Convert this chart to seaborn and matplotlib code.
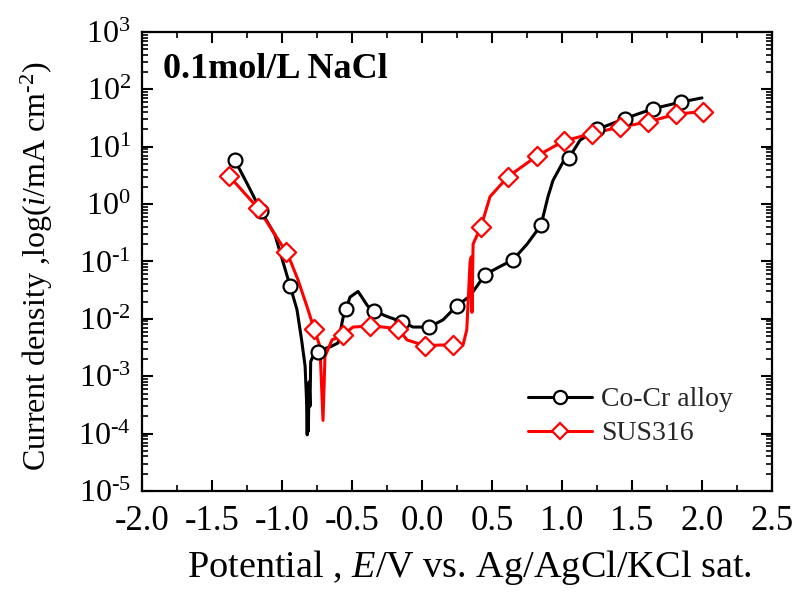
import numpy as np
import pandas as pd
import seaborn as sns
import matplotlib
matplotlib.use("Agg")
import matplotlib.pyplot as plt
from matplotlib.lines import Line2D
from matplotlib.ticker import (MultipleLocator, FormatStrFormatter, LogLocator,
                               NullFormatter, FuncFormatter)

# Polarization curve, Co-Cr alloy (potential in V, current density in mA/cm2)
cocr_v = [-1.34, -1.25, -1.15, -1.05, -0.943, -0.893, -0.86, -0.835, -0.825, -0.82,
          -0.815, -0.812, -0.806, -0.80, -0.795, -0.78, -0.743, -0.70, -0.65, -0.60,
          -0.564, -0.543, -0.514, -0.457, -0.43, -0.39, -0.343, -0.25, -0.143, -0.064,
          0.05, 0.15, 0.25, 0.343, 0.45, 0.55, 0.65, 0.75, 0.85, 0.90, 0.936,
          1.007, 1.05, 1.129, 1.25, 1.45, 1.65, 1.85, 2.0]
cocr_i = [6.0, 2.3, 0.76, 0.29, 0.038, 0.0145, 0.0043, 0.0015, 0.0004, 0.000095,
          0.0006, 0.00011, 0.0008, 0.0003, 0.0018, 0.0022, 0.0026, 0.0030, 0.0033, 0.0038,
          0.0105, 0.0149, 0.024, 0.030, 0.024, 0.017, 0.0138, 0.011, 0.0089, 0.0072,
          0.0072, 0.0096, 0.017, 0.025, 0.059, 0.080, 0.107, 0.20, 0.43, 1.35, 2.6,
          5.4, 6.4, 13.0, 20.0, 31.0, 46.0, 60.0, 71.0]
cocr_mark_v = [-1.336, -1.15, -0.943, -0.743, -0.543, -0.343, -0.143, 0.05, 0.25,
               0.45, 0.65, 0.85, 1.05, 1.25, 1.45, 1.65, 1.85]
cocr_mark_i = [5.9, 0.76, 0.038, 0.0026, 0.0149, 0.0138, 0.0089, 0.0072, 0.017,
               0.059, 0.107, 0.43, 6.4, 20.0, 31.0, 46.0, 60.0]

# Polarization curve, SUS316
sus_v = [-1.379, -1.171, -0.971, -0.943, -0.886, -0.82, -0.771, -0.729, -0.707, -0.693,
         -0.643, -0.564, -0.493, -0.371, -0.279, -0.171, -0.107, 0.021, 0.129, 0.221,
         0.293, 0.32, 0.343, 0.352, 0.357, 0.365, 0.379, 0.421, 0.486, 0.614, 0.821,
         1.014, 1.214, 1.414, 1.614, 1.814, 2.007]
sus_i = [3.1, 0.85, 0.147, 0.107, 0.048, 0.016, 0.0067, 0.0033, 0.00017, 0.0022,
         0.0043, 0.0052, 0.0072, 0.0075, 0.0072, 0.0067, 0.0043, 0.0034, 0.0035, 0.0035,
         0.0035, 0.0065, 0.096, 0.12, 0.013, 0.2, 0.24, 0.40, 1.35, 3.0, 6.9,
         12.6, 17.0, 22.0, 27.0, 37.0, 41.0]
sus_mark_v = [-1.379, -1.171, -0.971, -0.771, -0.564, -0.371, -0.171, 0.021, 0.221,
              0.421, 0.614, 0.821, 1.014, 1.214, 1.414, 1.614, 1.814, 2.007]
sus_mark_i = [3.1, 0.85, 0.147, 0.0067, 0.0052, 0.0075, 0.0067, 0.0034, 0.0035,
              0.40, 3.0, 6.9, 12.6, 17.0, 22.0, 27.0, 37.0, 41.0]

x_ticks = [-2.0, -1.5, -1.0, -0.5, 0.0, 0.5, 1.0, 1.5, 2.0, 2.5]

HYPHEN = "\u2010"

sns.set_theme(style="ticks")
plt.rcParams["font.family"] = ["Liberation Serif", "DejaVu Serif"]
plt.rcParams["mathtext.fontset"] = "custom"
plt.rcParams["mathtext.rm"] = "Liberation Serif"
plt.rcParams["mathtext.it"] = "Liberation Serif:italic"
plt.rcParams["mathtext.bf"] = "Liberation Serif:bold"
plt.rcParams["axes.unicode_minus"] = False

fig = plt.figure(figsize=(8.0, 5.92), dpi=100)
ax = fig.add_axes([0.1775, 0.1706, 0.7875, 0.7754])

cocr_line = pd.DataFrame({"E": cocr_v, "i": cocr_i})
sus_line = pd.DataFrame({"E": sus_v, "i": sus_i})
cocr_pts = pd.DataFrame({"E": cocr_mark_v, "i": cocr_mark_i})
sus_pts = pd.DataFrame({"E": sus_mark_v, "i": sus_mark_i})

sns.lineplot(data=cocr_line, x="E", y="i", sort=False, estimator=None,
             color="black", linewidth=2.2, ax=ax, zorder=2)
sns.lineplot(data=sus_line, x="E", y="i", sort=False, estimator=None,
             color="red", linewidth=2.2, ax=ax, zorder=2)
sns.scatterplot(data=cocr_pts, x="E", y="i", marker="o", s=100,
                facecolor="white", edgecolor="black", linewidth=1.6, ax=ax, zorder=3)
sns.scatterplot(data=sus_pts, x="E", y="i", marker="D", s=95,
                facecolor="white", edgecolor="red", linewidth=1.6, ax=ax, zorder=4)


def decade_label(val, pos):
    exp = int(round(np.log10(val)))
    txt = str(exp).replace("-", HYPHEN)
    return r"$\mathrm{10^{" + txt + r"}}$"


ax.set_yscale("log")
ax.set_xlim(-2.0, 2.5)
ax.set_ylim(1e-5, 1e3)
ax.set_xticks(x_ticks)
ax.xaxis.set_major_formatter(FormatStrFormatter("%.1f"))
ax.xaxis.set_minor_locator(MultipleLocator(0.25))
ax.yaxis.set_major_locator(LogLocator(base=10, numticks=20))
ax.yaxis.set_major_formatter(FuncFormatter(decade_label))
ax.yaxis.set_minor_locator(LogLocator(base=10, subs=np.arange(2, 10), numticks=20))
ax.yaxis.set_minor_formatter(NullFormatter())

for side in ["left", "right", "top", "bottom"]:
    ax.spines[side].set_visible(True)
    ax.spines[side].set_linewidth(1.6)
    ax.spines[side].set_color("black")

ax.tick_params(which="both", direction="in", top=True, right=True, colors="black")
ax.tick_params(which="major", length=8, width=1.5)
ax.tick_params(which="minor", length=4, width=1.2)
ax.tick_params(axis="x", which="major", labelsize=25, pad=10)
ax.tick_params(axis="y", which="major", labelsize=23, pad=8)

ax.set_xlabel(r"Potential , $\mathit{E}$/V vs. Ag/AgCl/KCl sat.", fontsize=27.5,
              color="black")
ax.xaxis.set_label_coords(0.52, -0.125)
ax.set_ylabel(r"Current density ,log($\mathit{i}$/mA cm$^{\mathrm{" + HYPHEN + r"2}}$)",
              fontsize=23, color="black")
ax.yaxis.set_label_coords(-0.138, 0.49)

ax.text(0.033, 0.955, "0.1mol/L NaCl", transform=ax.transAxes, fontsize=26,
        fontweight="bold", va="top", ha="left", color="black")

handles = [
    Line2D([], [], color="black", linewidth=2.2, marker="o", markersize=9.5,
           markerfacecolor="white", markeredgecolor="black", markeredgewidth=1.6),
    Line2D([], [], color="red", linewidth=2.2, marker="D", markersize=8.5,
           markerfacecolor="white", markeredgecolor="red", markeredgewidth=1.6),
]
ax.legend(handles, ["Co-Cr alloy", "SUS316"], loc="lower right",
          bbox_to_anchor=(0.978, 0.043), frameon=False, fontsize=20,
          handlelength=2.3, handletextpad=0.35, labelspacing=0.3)

fig.savefig("out.png", dpi=100, facecolor="white")
